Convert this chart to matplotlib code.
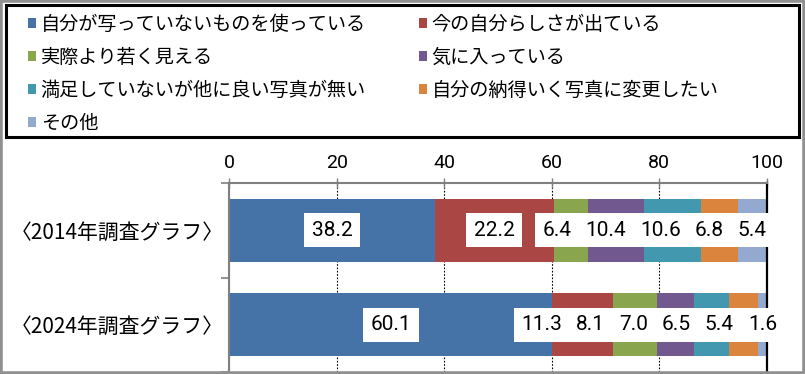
import matplotlib
matplotlib.use("Agg")
import matplotlib.pyplot as plt
from matplotlib.patches import Patch, Rectangle
from matplotlib.font_manager import FontProperties
import numpy as np

# ---------------- data ----------------
categories = ["〈2014年調査グラフ〉", "〈2024年調査グラフ〉"]
series_names = [
    "自分が写っていないものを使っている",
    "今の自分らしさが出ている",
    "実際より若く見える",
    "気に入っている",
    "満足していないが他に良い写真が無い",
    "自分の納得いく写真に変更したい",
    "その他",
]
values_2014 = [38.2, 22.2, 6.4, 10.4, 10.6, 6.8, 5.4]
values_2024 = [60.1, 11.3, 8.1, 7.0, 6.5, 5.4, 1.6]
x_ticks = [0, 20, 40, 60, 80, 100]

# ---------------- style ----------------
colors = ["#4572A7", "#AA4643", "#89A54E", "#71588F", "#4198AF", "#DB843D", "#93A9CF"]
cjk = ["Noto Sans CJK JP", "DejaVu Sans"]
plt.rcParams["font.family"] = cjk
num_font = "Roboto"

W, H, DPI = 805, 374, 100
fig = plt.figure(figsize=(W / DPI, H / DPI), dpi=DPI)
fig.patch.set_facecolor("white")


def fig_rect(x0, y0, x1, y1):
    return [x0 / W, 1 - y1 / H, (x1 - x0) / W, (y1 - y0) / H]


ax = fig.add_axes(fig_rect(229.3, 183.3, 766.7, 372))

data = [values_2014, values_2024]
y_pos = np.arange(len(categories))
left = np.zeros(len(categories))
segments = [[] for _ in categories]
for j, name in enumerate(series_names):
    vals = np.array([d[j] for d in data], dtype=float)
    ax.barh(y_pos, vals, left=left, height=0.67, color=colors[j],
            edgecolor="none", label=name, zorder=2)
    for i in range(len(categories)):
        segments[i].append((left[i] + vals[i] / 2.0, vals[i]))
    left += vals

ax.set_xlim(0, 100)
ax.set_ylim(len(categories) - 0.5, -0.5)

# x axis on top
ax.xaxis.tick_top()
ax.set_xticks(x_ticks)
ax.set_xticklabels([str(t) for t in x_ticks], fontfamily=num_font, fontsize=14)
ax.tick_params(axis="x", which="major", direction="inout", length=7.5, width=1,
               color="#808080", pad=4.5)
ax.grid(axis="x", color="black", linestyle=(0, (1.5, 1.5)), linewidth=0.8, zorder=1)
ax.set_axisbelow(True)

# y axis
ax.set_yticks(y_pos)
ax.set_yticklabels(categories, fontfamily=cjk, fontsize=15)
ax.tick_params(axis="y", which="major", length=0, pad=4)
ax.set_yticks(np.arange(len(categories) + 1) - 0.5, minor=True)
ax.tick_params(axis="y", which="minor", direction="out", length=6, width=1.2, color="#808080")

for s in ["left", "top"]:
    ax.spines[s].set_color("#808080")
    ax.spines[s].set_linewidth(1.5)
ax.spines["bottom"].set_visible(False)
ax.spines["right"].set_color("black")
ax.spines["right"].set_linewidth(1.6)

# data labels
texts = [[] for _ in categories]
for i in range(len(categories)):
    for j, (cx, v) in enumerate(segments[i]):
        t = ax.text(cx, y_pos[i], f"{v:.1f}", ha="center", va="center",
                    fontfamily=num_font, fontsize=15, color="black",
                    bbox=dict(boxstyle="square,pad=0.36", facecolor="white", edgecolor="none"),
                    zorder=5, clip_on=False)
        texts[i].append(t)

# push overlapping labels to the left (right-most stays at its segment centre)
fig.canvas.draw()
renderer = fig.canvas.get_renderer()
px_per_unit = ax.bbox.width / 100.0
for i in range(len(categories)):
    ws = [t.get_bbox_patch().get_window_extent(renderer).width / px_per_unit for t in texts[i]]
    cs = [seg[0] for seg in segments[i]]
    for k in range(len(cs) - 2, -1, -1):
        cs[k] = min(cs[k], cs[k + 1] - (ws[k] + ws[k + 1]) / 2.0 + 0.2)
    for t, c in zip(texts[i], cs):
        t.set_x(c)

# legend
handles = [Patch(facecolor=c, edgecolor="none") for c in colors]
order = [0, 2, 4, 6, 1, 3, 5]
leg = fig.legend([handles[k] for k in order], [series_names[k] for k in order],
                 ncol=2, loc="upper left", bbox_to_anchor=(28.3 / W, 1 - 14 / H),
                 frameon=False, prop=FontProperties(family=cjk, size=13.8),
                 handlelength=0.4, handleheight=0.4, handletextpad=0.25,
                 columnspacing=2.77, labelspacing=0.62, borderpad=0, borderaxespad=0)

# legend frame and outer frame
fig.add_artist(Rectangle((5.5 / W, 1 - 137 / H), (798.5 - 5.5) / W, (137 - 5.5) / H,
                         transform=fig.transFigure, fill=False, edgecolor="black", lw=2.2))
fig.add_artist(Rectangle((0, 0), 1, 1, transform=fig.transFigure, fill=False,
                         edgecolor="#909090", lw=4))

fig.savefig("out.png", dpi=DPI)
